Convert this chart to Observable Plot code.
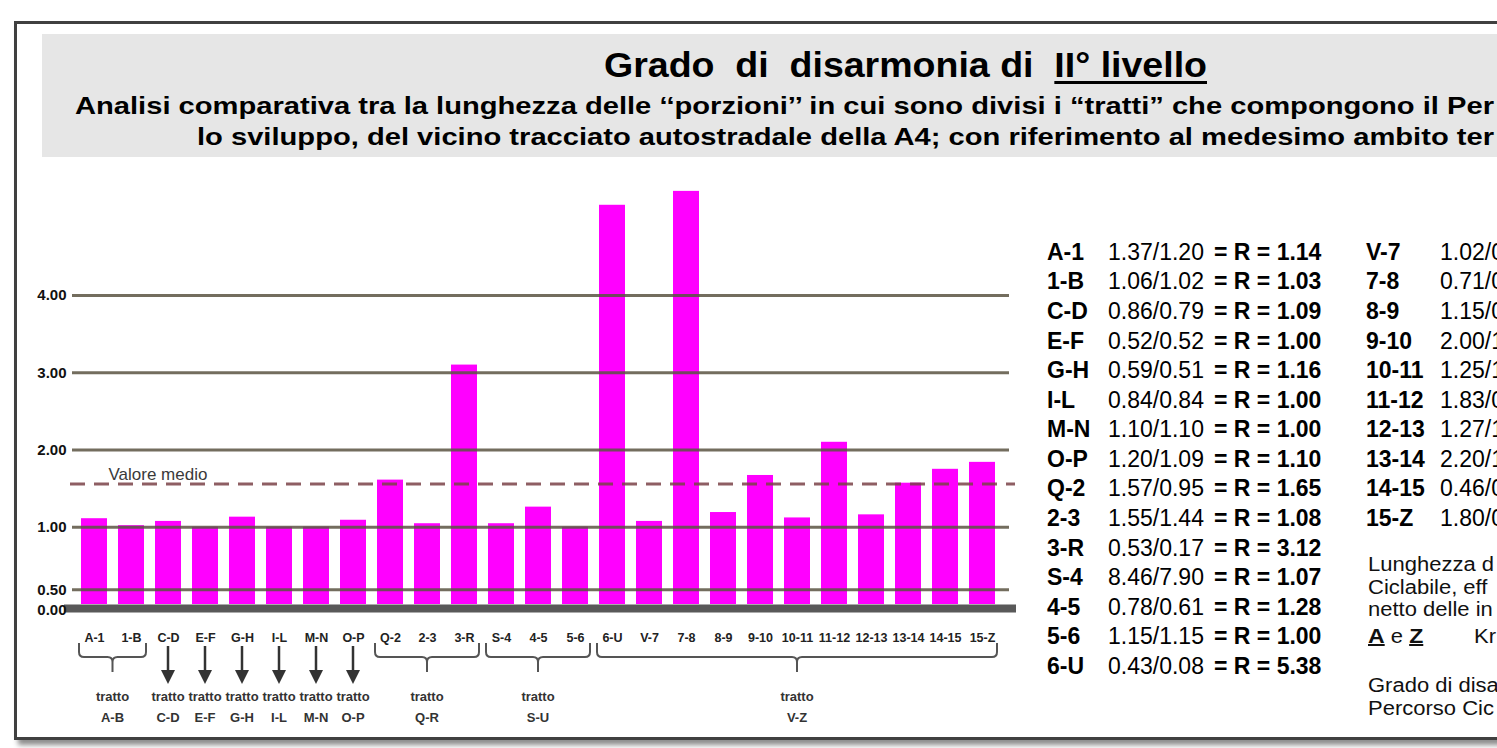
<!DOCTYPE html>
<html>
<head>
<meta charset="utf-8">
<script src="https://cdn.jsdelivr.net/npm/d3@7"></script>
<script src="https://cdn.jsdelivr.net/npm/@observablehq/plot@0.6"></script>
<style>
  html, body { margin: 0; padding: 0; background: #fff; }
  body { width: 1497px; height: 748px; overflow: hidden; position: relative; font-family: "Liberation Sans", Arial, sans-serif; color: #111; }
  #frame { position: absolute; left: 14px; top: 21px; width: 1520px; height: 713px; border: 3.5px solid #404040; box-shadow: 4px 5px 5px rgba(0,0,0,0.45); background: #fff; }
  #titlebox { position: absolute; left: 42px; top: 34px; width: 1500px; height: 123px; background: #e6e6e6; }
  .abs { position: absolute; white-space: nowrap; transform-origin: 0 50%; }
  #title { left: 604px; top: 46px; font-size: 35px; line-height: 37px; font-weight: bold; color: #000; }
  #title u { text-decoration-thickness: 3px; text-underline-offset: 4px; }
  .sub { font-size: 24px; line-height: 24px; font-weight: bold; color: #000; }
  #chart { position: absolute; left: 0; top: 0; }
  .row { position: absolute; font-size: 23px; line-height: 29.57px; height: 29.57px; white-space: nowrap; color: #000; }
  .row span { position: absolute; top: 0; }
  .note { position: absolute; font-size: 20px; line-height: 22px; white-space: nowrap; color: #111; transform: scaleX(1.1); transform-origin: 0 50%; }
</style>
</head>
<body>
<div id="frame"></div>
<div id="titlebox"></div>
<div id="title" class="abs">Grado&nbsp; di&nbsp; disarmonia di&nbsp; <u>II° livello</u></div>
<div id="sub1" class="abs sub" style="left:75px; top:94px;">Analisi comparativa tra la lunghezza delle ‘‘porzioni’’ in cui sono divisi i “tratti” che compongono il Per</div>
<div id="sub2" class="abs sub" style="left:197px; top:125px;">lo sviluppo, del vicino tracciato autostradale della A4; con riferimento al medesimo ambito ter</div>
<div id="chart"></div>
<div id="table"></div>
<script>
// ---- data ----
const categories = ["A-1","1-B","C-D","E-F","G-H","I-L","M-N","O-P","Q-2","2-3","3-R","S-4","4-5","5-6","6-U","V-7","7-8","8-9","9-10","10-11","11-12","12-13","13-14","14-15","15-Z"];
const values = [1.11, 1.02, 1.075, 1.0, 1.13, 1.0, 1.0, 1.09, 1.61, 1.045, 3.10, 1.045, 1.26, 1.0, 5.17, 1.075, 5.35, 1.19, 1.67, 1.12, 2.10, 1.16, 1.57, 1.75, 1.84];
const meanValue = 1.56;
const yTicks = [0, 0.5, 1, 2, 3, 4];
const yTickLabels = ["0.00", "0.50", "1.00", "2.00", "3.00", "4.00"];

const groupNames = ["A-B","C-D","E-F","G-H","I-L","M-N","O-P","Q-R","S-U","V-Z"];
const groupFirst = ["A-1","C-D","E-F","G-H","I-L","M-N","O-P","Q-2","S-4","6-U"];
const groupLast  = ["1-B","C-D","E-F","G-H","I-L","M-N","O-P","3-R","5-6","15-Z"];

const tableCodes1 = ["A-1","1-B","C-D","E-F","G-H","I-L","M-N","O-P","Q-2","2-3","3-R","S-4","4-5","5-6","6-U"];
const tableRatios1 = ["1.37/1.20","1.06/1.02","0.86/0.79","0.52/0.52","0.59/0.51","0.84/0.84","1.10/1.10","1.20/1.09","1.57/0.95","1.55/1.44","0.53/0.17","8.46/7.90","0.78/0.61","1.15/1.15","0.43/0.08"];
const tableR1 = ["1.14","1.03","1.09","1.00","1.16","1.00","1.00","1.10","1.65","1.08","3.12","1.07","1.28","1.00","5.38"];
const tableCodes2 = ["V-7","7-8","8-9","9-10","10-11","11-12","12-13","13-14","14-15","15-Z"];
const tableRatios2 = ["1.02/0","0.71/0","1.15/0","2.00/1","1.25/1","1.83/0","1.27/1","2.20/1","0.46/0","1.80/0"];

const data = categories.map((c, i) => ({cat: c, value: values[i]}));
const fmtTick = (d) => yTickLabels[yTicks.indexOf(d)];

// ---- chart ----
const chart = Plot.plot({
  width: 1497,
  height: 748,
  marginLeft: 72,
  marginRight: 488,
  marginTop: 0,
  marginBottom: 136,
  style: {background: "transparent", fontFamily: "'Liberation Sans', Arial, sans-serif", overflow: "visible", color: "#222"},
  x: {domain: categories, range: [61.5, 1015.1], padding: 0.3},
  y: {type: "linear", domain: [0, 0.5, 1, 6], range: [604, 589.3, 526.7, 140.7]},
  marks: [
    Plot.barY(data, {x: "cat", y: "value", fill: "#ff00ff"}),
    Plot.ruleY(yTicks.filter(d => d > 0), {stroke: "#5a5442", strokeOpacity: 0.85, strokeWidth: 3}),
    Plot.ruleY([meanValue], {stroke: "#7a4248", strokeOpacity: 0.85, strokeWidth: 3, strokeDasharray: "15,9", insetLeft: -2, insetRight: -6}),
    Plot.ruleY([0], {stroke: "#595959", strokeWidth: 8, dy: 4, insetLeft: -8, insetRight: -7}),
    Plot.text(["Valore medio"], {x: () => categories[0], y: () => meanValue, dx: 14, dy: -9, textAnchor: "start", fontSize: 17, fill: "#3a3a3a"}),
    Plot.axisY(yTicks.filter(d => d > 0), {tickSize: 0, tickPadding: 6, tickFormat: fmtTick, fontWeight: "bold", fontSize: 15, fill: "#111", label: null}),
    Plot.axisY([0], {tickSize: 0, tickPadding: 6, dy: 6, tickFormat: fmtTick, fontWeight: "bold", fontSize: 15, fill: "#111", label: null}),
    Plot.axisX({tickSize: 0, tickPadding: 21, fontWeight: "bold", fontSize: 12.5, fill: "#222", label: null})
  ]
});
document.getElementById("chart").appendChild(chart);

// ---- annotations below the axis, positioned with Plot's x scale ----
const xs = chart.scale("x");
const bw = xs.bandwidth;
const g = d3.select(chart).append("g").attr("class", "annotations");
function bracePath(x0, x1) {
  const yTop = 643, yMid = 657, yTip = 672, r = 5;
  const xm = (x0 + x1) / 2;
  return `M${x0},${yTop} L${x0},${yMid - r} Q${x0},${yMid} ${x0 + r},${yMid} L${xm - r},${yMid} Q${xm},${yMid} ${xm},${yMid + r} L${xm},${yTip}` +
         ` M${xm},${yMid + r} Q${xm},${yMid} ${xm + r},${yMid} L${x1 - r},${yMid} Q${x1},${yMid} ${x1},${yMid - r} L${x1},${yTop}`;
}
groupNames.forEach((name, i) => {
  const a = xs.apply(groupFirst[i]);
  const b = xs.apply(groupLast[i]) + bw;
  let cx;
  if (groupFirst[i] === groupLast[i]) {
    cx = a + bw / 2;
    g.append("line").attr("x1", cx).attr("x2", cx).attr("y1", 646).attr("y2", 672)
      .attr("stroke", "#333").attr("stroke-width", 2.5);
    g.append("path").attr("d", `M${cx - 7},${670} L${cx + 7},${670} L${cx},${684} Z`).attr("fill", "#333");
  } else {
    const x0 = a - 2, x1 = b + 2;
    cx = (x0 + x1) / 2;
    g.append("path").attr("d", bracePath(x0, x1)).attr("fill", "none").attr("stroke", "#555").attr("stroke-width", 2);
  }
  g.append("text").attr("x", cx).attr("y", 696).attr("dy", "0.35em").attr("text-anchor", "middle")
    .attr("font-size", 13).attr("font-weight", "bold").attr("fill", "#333").text("tratto");
  g.append("text").attr("x", cx).attr("y", 717).attr("dy", "0.35em").attr("text-anchor", "middle")
    .attr("font-size", 13).attr("font-weight", "bold").attr("fill", "#333").text(name);
});

// ---- width fits for the heading lines (the reference text is horizontally wide) ----
function fitWidth(id, target) {
  const el = document.getElementById(id);
  const w = el.getBoundingClientRect().width;
  el.style.transform = `scaleX(${target / w})`;
}
fitWidth("title", 603);
fitWidth("sub1", 1419);
fitWidth("sub2", 1297);

// ---- right-hand table ----
const table = document.getElementById("table");
const rowTop = (i) => 252.7 - 14.8 + i * 29.57;
tableCodes1.forEach((c, i) => {
  const div = document.createElement("div");
  div.className = "row";
  div.style.top = rowTop(i) + "px";
  div.style.left = "0px";
  div.innerHTML = `<span style="left:1047px;font-weight:bold">${c}</span>` +
                  `<span style="left:1108px">${tableRatios1[i]}</span>` +
                  `<span style="left:1214px;font-weight:bold">= R = ${tableR1[i]}</span>`;
  table.appendChild(div);
});
tableCodes2.forEach((c, i) => {
  const div = document.createElement("div");
  div.className = "row";
  div.style.top = rowTop(i) + "px";
  div.style.left = "0px";
  div.innerHTML = `<span style="left:1366px;font-weight:bold">${c}</span>` +
                  `<span style="left:1440px">${tableRatios2[i]}</span>`;
  table.appendChild(div);
});
const notes = [
  ["Lunghezza d", 564, 1368], ["Ciclabile, eff", 587, 1368], ["netto delle in", 609, 1368],
  ["<b style='text-decoration:underline;text-decoration-thickness:2px;font-size:21px'>A</b> e <b style='text-decoration:underline;text-decoration-thickness:2px;font-size:21px'>Z</b>", 636, 1368],
  ["Kr", 636, 1474],
  ["Grado di disa", 685, 1368], ["Percorso Cic", 708, 1368]
];
notes.forEach(([t, y, x]) => {
  const div = document.createElement("div");
  div.className = "note";
  div.style.left = x + "px";
  div.style.top = (y - 11) + "px";
  div.innerHTML = t;
  table.appendChild(div);
});
</script>
</body>
</html>
